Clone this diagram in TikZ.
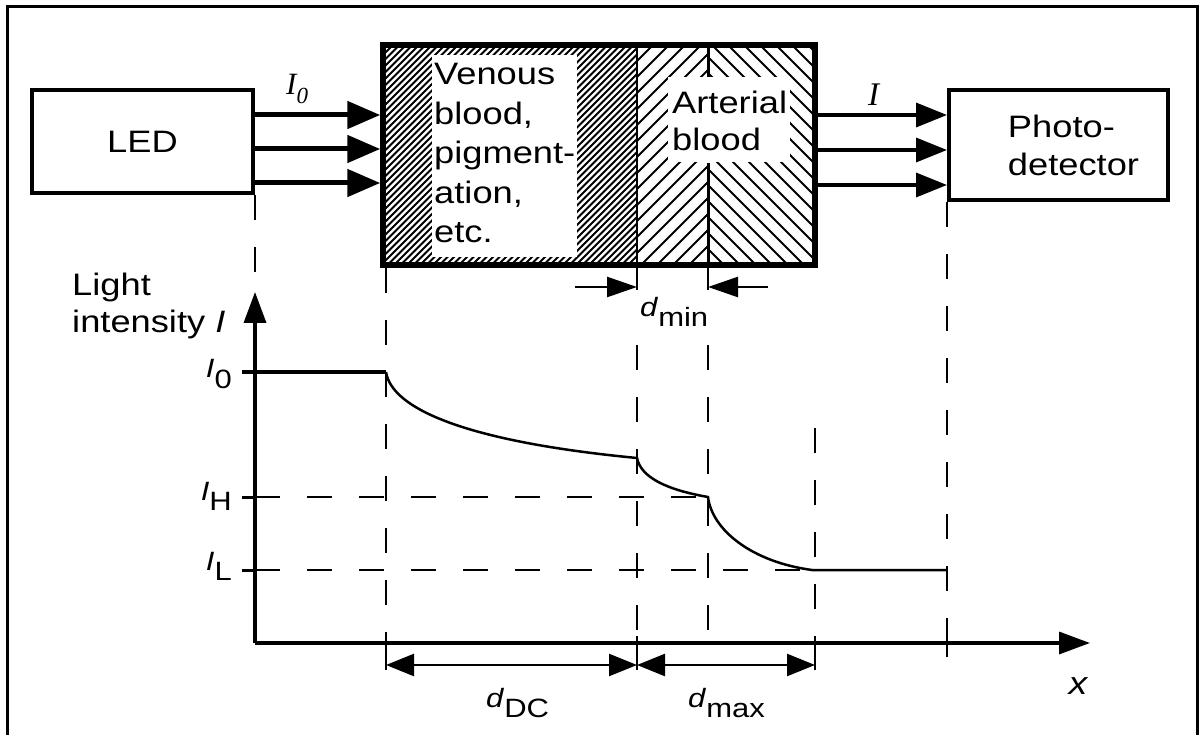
\documentclass[tikz,border=0pt]{standalone}
\usepackage{fontspec}
\setmainfont[FakeStretch=1.17]{Liberation Sans}
\newfontfamily\serifit{Liberation Serif}
\usetikzlibrary{arrows.meta}

% italic letter with a lowered upright index
\newcommand{\subl}[2]{\textit{#1}\raisebox{-10pt}{#2}}

\begin{document}
\begin{tikzpicture}[
    x=1pt, y=-1pt,
    box/.style={draw, line width=4pt, inner sep=0pt, font=\fontsize{31}{38}\selectfont},
    beamin/.style={line width=5pt, -{Triangle[length=33pt,width=27pt]}},
    beamout/.style={line width=3.5pt, -{Triangle[length=31pt,width=24pt]}},
    hatch/.style={line width=2pt},
    guide/.style={line width=1.6pt, dash pattern=on 25pt off 27pt},
    axis/.style={line width=3.5pt, -{Triangle[length=31pt,width=22pt]}},
    dimline/.style={line width=2.5pt, {Triangle[length=28pt,width=22pt]}-{Triangle[length=28pt,width=22pt]}},
    dimtip/.style={line width=2.5pt, -{Triangle[length=30pt,width=20pt]}},
    lbl/.style={inner sep=0pt, font=\fontsize{31}{37}\selectfont},
    sym/.style={inner sep=0pt, font=\fontsize{26.5}{30}\selectfont}
]
\useasboundingbox (0,0) rectangle (1203,735);

% Frame
\draw[line width=3pt] (7,735) -- (7,7) -- (1197.5,7) -- (1197.5,735);

% Source and detector
\node[box, minimum width=221pt, minimum height=103pt] (led) at (142.5,141.5) {LED};
\node[box, minimum width=219pt, minimum height=110pt, align=left] (pd) at (1058.5,145)
    {\hspace*{30pt}Photo-\\\hspace*{30pt}detector};

% Venous layer
\begin{scope}
    \clip (383,45) rectangle (637,265);
    \foreach \x in {160,166.5,...,640} \draw[hatch] (\x,265) -- ++(230,-230);
\end{scope}
\fill[white] (432,55) rectangle (577,257);

% Arterial layer
\begin{scope}
    \clip (637,45) rectangle (708,265);
    \foreach \x in {417,433,...,710} \draw[hatch] (\x,265) -- ++(230,-230);
\end{scope}
\begin{scope}
    \clip (708,45) rectangle (815,265);
    \foreach \x in {488,504,...,820} \draw[hatch] (\x,45) -- ++(230,230);
\end{scope}
\fill[white] (668,77) rectangle (790,162);
\draw[line width=3pt] (708,45) -- (708,77);
\draw[line width=3pt] (708,163) -- (708,265);
\draw[line width=2.5pt] (637,45) -- (637,265);
\node[draw, line width=5.5pt, minimum width=432pt, minimum height=220pt, inner sep=0pt] (tissue) at (599,155) {};

\node[lbl, anchor=north west, align=left, font=\fontsize{31}{39.5}\selectfont] (venous) at (434,63)
    {Venous\\blood,\\pigment-\\ation,\\etc.};
\node[lbl, anchor=north west, align=left] (arterial) at (672,90.5) {Arterial\\blood};

% Beams
\foreach \y in {115,149,183} {
    \path (0,\y) coordinate (lev);
    \draw[beamin] (led.east |- lev) -- (tissue.west |- lev);
}
\foreach \y in {115,150,185} {
    \path (0,\y) coordinate (lev);
    \draw[beamout] (tissue.east |- lev) -- (pd.west |- lev);
}
\node[inner sep=0pt, anchor=base west, font=\serifit\itshape\fontsize{31}{34}\selectfont] (i0) at (286,95)
    {I\raisebox{-9pt}{\fontsize{23}{25}\selectfont 0}};
\node[inner sep=0pt, anchor=base west, font=\serifit\itshape\fontsize{33}{36}\selectfont] (iout) at (868,106) {I};

% d_min
\draw[line width=1.5pt] (637,268) -- (637,290);
\draw[line width=1.5pt] (708,268) -- (708,290);
\draw[dimtip] (575,287) -- (637,287);
\draw[dimtip] (768,287) -- (708,287);
\node[sym, anchor=base west] (dmin) at (640,317) {\subl{d}{min}};

% Axes
\coordinate (origin) at (255,643);
\draw[axis] (origin) -- (1090,643);
\draw[axis] (origin) -- (255,292);
\node[lbl, anchor=north west, align=left] (ylabel) at (72,272.5) {Light\\intensity \textit{I}};
\node[lbl, font=\fontsize{32}{32}\selectfont\itshape] (xlabel) at (1078,686) {x};

% Levels
\node[sym, anchor=base east] (lzero) at (232,378) {\subl{I}{0}};
\node[sym, anchor=base east] (lhigh) at (232,500) {\subl{I}{H}};
\node[sym, anchor=base east] (llow) at (232,570) {\subl{I}{L}};
\draw[line width=3pt] (242,497) -- (255,497);
\draw[line width=3pt] (242,570) -- (255,570);
\draw[guide] (255,497) -- (708,497);
\draw[guide] (255,570) -- (812,570);

% Guides
\draw[guide] (led.south east) -- (255,285);
\draw[guide] (386,268) -- (386,636);
\draw[guide] (637,345) -- (637,636);
\draw[guide] (708,345) -- (708,657);
\draw[guide] (815,428) -- (815,636);
\draw[guide] (pd.south west) -- (947,636);
\foreach \x in {386,637,815} \draw[line width=2pt] (\x,636) -- (\x,670);
\draw[line width=2.5pt] (947,636) -- (947,657);

% Intensity curve
\draw[line width=3.5pt] (242,372) -- (386,372);
\draw[line width=2.5pt] (386,372) .. controls (392,410) and (470,442) .. (637,458)
    .. controls (641,478) and (668,490) .. (708,497)
    .. controls (712,530) and (752,562) .. (812,570) -- (947,570);

% Widths
\draw[dimline] (386,665) -- (637,665);
\draw[dimline] (637,665) -- (815,665);
\node[sym, anchor=base west] (ddc) at (486,707) {\subl{d}{DC}};
\node[sym, anchor=base west] (dmax) at (688,707) {\subl{d}{max}};

\end{tikzpicture}
\end{document}
